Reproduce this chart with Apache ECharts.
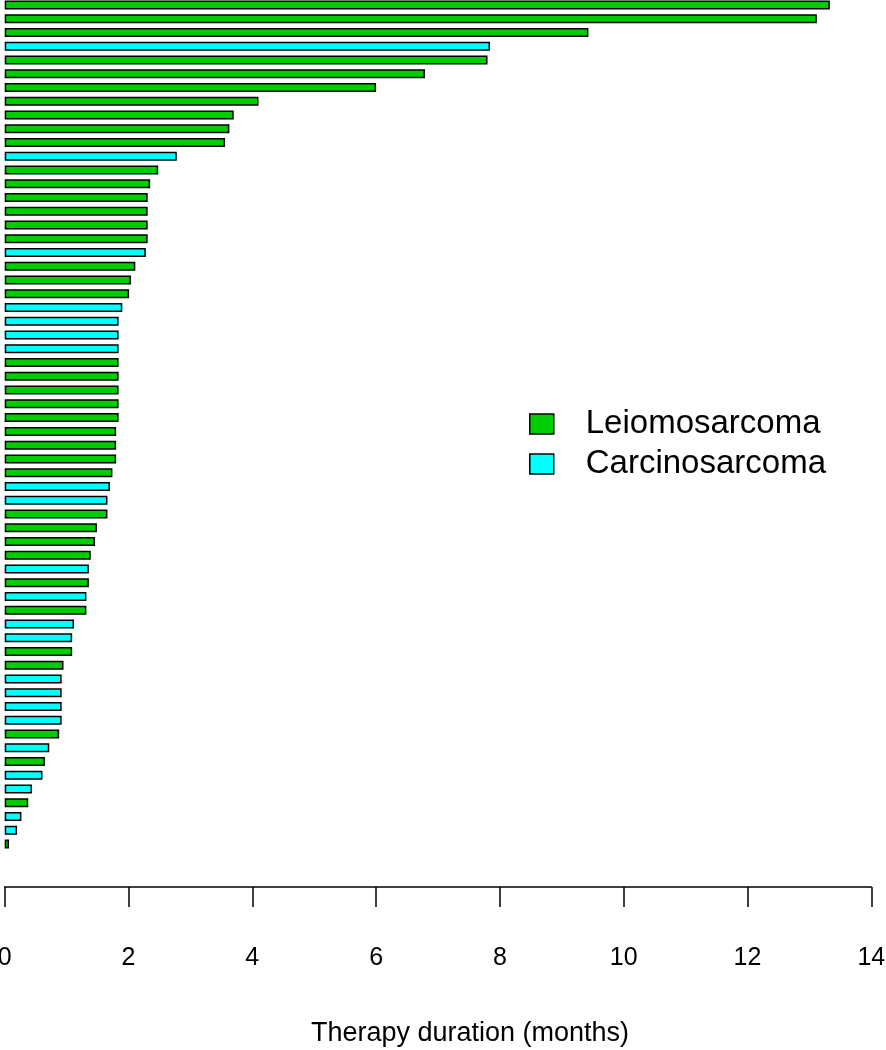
<!DOCTYPE html>
<html>
<head>
<meta charset="utf-8">
<script src="https://cdn.jsdelivr.net/npm/echarts@6/dist/echarts.min.js"></script>
<style>
html,body{margin:0;padding:0;background:#fff;}
#chart{width:886px;height:1050px;}
</style>
</head>
<body>
<div id="chart"></div>
<script>
// Therapy duration (months) per patient, top to bottom
const durations = [13.33,13.12,9.43,7.84,7.80,6.79,6.00,4.10,3.70,3.63,
  3.56,2.78,2.48,2.35,2.31,2.31,2.31,2.31,2.28,2.11,
  2.04,2.01,1.90,1.84,1.84,1.84,1.84,1.84,1.84,1.84,
  1.84,1.80,1.80,1.80,1.74,1.70,1.66,1.66,1.49,1.46,
  1.39,1.36,1.36,1.32,1.32,1.12,1.09,1.09,0.95,0.92,
  0.92,0.92,0.92,0.88,0.72,0.65,0.61,0.44,0.38,0.27,
  0.20,0.07];
// Histology: L = Leiomosarcoma, C = Carcinosarcoma
const histology = ['L','L','L','C','L','L','L','L','L','L',
  'L','C','L','L','L','L','L','L','C','L',
  'L','L','C','C','C','C','L','L','L','L',
  'L','L','L','L','L','C','C','L','L','L',
  'L','C','L','C','L','C','C','L','L','C',
  'C','C','C','L','C','L','C','C','L','C',
  'C','L'];
const groupNames = ['Leiomosarcoma','Carcinosarcoma'];
const groupCodes = ['L','C'];
const groupColors = ['#00CD00','#00FFFF'];
const xTicks = [0,2,4,6,8,10,12,14];

const patients = durations.map((d,i)=>'P'+(i+1));

const series = groupNames.map((name,gi)=>({
  name: name,
  type: 'bar',
  stack: 'all',
  barWidth: 9,
  data: durations.map((d,i)=> histology[i]===groupCodes[gi] ? d : '-'),
  itemStyle: {color: groupColors[gi], borderColor:'#000', borderWidth:1.5},
  emphasis: {disabled:true},
  animation: false
}));

const chart = echarts.init(document.getElementById('chart'), null, {renderer:'canvas'});
chart.setOption({
  backgroundColor:'#fff',
  animation:false,
  grid:{left:4.7, right:14.7, top:-2, bottom:199, containLabel:false, outerBoundsMode:'none'},
  xAxis:{
    type:'value', min:xTicks[0], max:xTicks[xTicks.length-1], interval:2,
    position:'bottom', offset:36,
    axisLine:{show:true, lineStyle:{color:'#000', width:1.5}},
    axisTick:{show:true, length:20, lineStyle:{color:'#000', width:1.5}},
    splitLine:{show:false},
    axisLabel:{margin:59, fontSize:25, color:'#000', fontFamily:'Liberation Sans, Arial, sans-serif'},
    name:'Therapy duration (months)', nameLocation:'middle', nameGap:133,
    nameTextStyle:{fontSize:27, color:'#000', padding:[0,0,0,64], fontFamily:'Liberation Sans, Arial, sans-serif'}
  },
  yAxis:{
    type:'category', data:patients, inverse:true,
    show:false
  },
  legend:{
    show:true, orient:'vertical', left:529, top:404, padding:0,
    icon:'rect', itemWidth:24, itemHeight:20, itemGap:0,
    selectedMode:false,
    data:groupNames,
    itemStyle:{borderColor:'#000', borderWidth:1.5},
    textStyle:{fontSize:33, color:'#000', lineHeight:16, padding:[24,0,0,27], fontFamily:'Liberation Sans, Arial, sans-serif'}
  },
  series: series
});
</script>
</body>
</html>
